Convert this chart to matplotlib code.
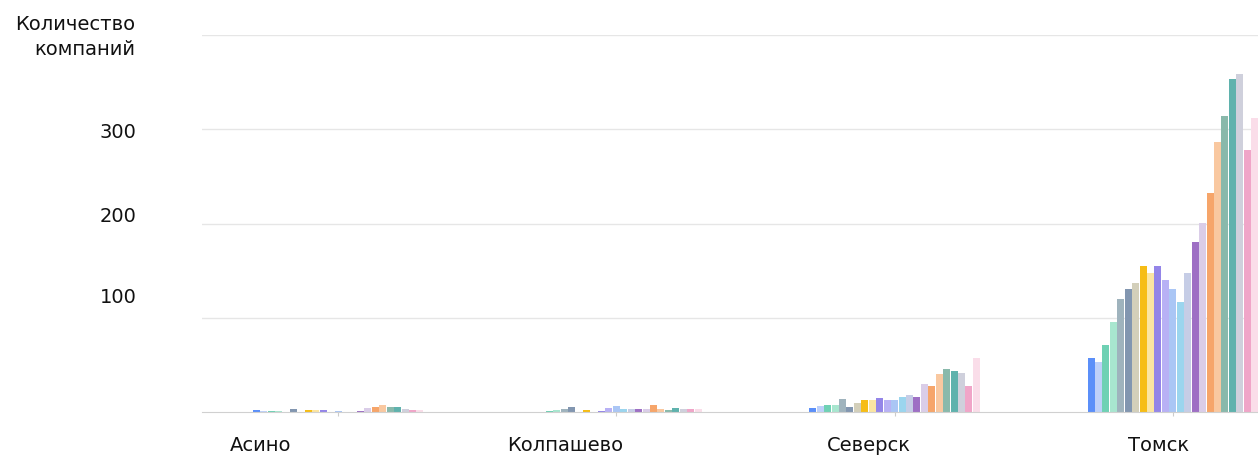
import matplotlib.pyplot as plt
import numpy as np

cities = ["Асино", "Колпашево", "Северск", "Томск"]

colors = ["#5b8ff9", "#bed0f9", "#6fd1b4", "#a8e6cf", "#9fb3bd", "#8296b0",
          "#d3cfba", "#f6bd16", "#fbe5a2", "#9485e8", "#b8b1f5", "#aac6f5",
          "#9bd5ee", "#c6cde6", "#9e6fc4", "#dacde8", "#f6a56a", "#f9c8a0",
          "#89b9ab", "#5fb2ad", "#cfd0dc", "#f0a5c8", "#fadde9"]

# values per series (23 series), one number per city
asino = [2, 1, 1, 1, 0, 3, 0, 2, 2, 2, 0, 1, 0, 0, 1, 4, 5, 7, 5, 5, 3, 2, 2]
kolpashevo = [0, 0, 1, 2, 3, 5, 0, 2, 0, 1, 4, 6, 3, 3, 3, 3, 7, 3, 2, 4, 3, 3, 3]
seversk = [4, 6, 7, 7, 14, 5, 10, 13, 13, 15, 13, 13, 16, 18, 16, 30, 28, 40, 46, 43, 41, 28, 57]
tomsk = [57, 53, 71, 95, 120, 131, 137, 155, 147, 155, 140, 131, 117, 147, 180,
         201, 232, 286, 314, 353, 359, 278, 312]

ytick_vals = [100, 200, 300]
label_y = [121, 207, 297]  # where the tick texts sit in the original
label_x = [-0.28, 0.817, 1.906, 2.95]

values = np.array([asino, kolpashevo, seversk, tomsk])
n_series = values.shape[1]
x = np.arange(len(cities))
group_w = 0.615
bw = group_w / n_series

fig = plt.figure(figsize=(12.58, 4.57), dpi=100)
ax = fig.add_axes([202 / 1258, 45 / 457, 1 - 202 / 1258, 377 / 457])

for i in range(n_series):
    offs = -group_w / 2 + bw * (i + 0.5)
    ax.bar(x + offs, values[:, i], width=bw * 0.94, color=colors[i], linewidth=0)

ax.set_xlim(-0.489, 3.306)
ax.set_ylim(0, 400)
ax.set_yticks([100, 200, 300, 400])
ax.set_yticklabels([])
ax.tick_params(axis="y", length=0)
ax.yaxis.grid(True, color="#e6e6e6", linewidth=1)
ax.set_axisbelow(True)

ax.set_xticks(x)
ax.set_xticklabels([])
ax.tick_params(axis="x", length=3, color="#cccccc")

for s in ["top", "right", "left"]:
    ax.spines[s].set_visible(False)
ax.spines["bottom"].set_color("#d0d0d0")

fs = 14
for lx, name in zip(label_x, cities):
    ax.text(lx, -0.088, name, transform=ax.get_xaxis_transform(),
            ha="center", va="center", fontsize=fs, color="#111111")

for ly, v in zip(label_y, ytick_vals):
    ax.text(-0.062, ly, str(v), transform=ax.get_yaxis_transform(),
            ha="right", va="center", fontsize=fs, color="#111111")

fig.text(135 / 1258, 1 - 37 / 457, "Количество\nкомпаний", ha="right", va="center",
         multialignment="right", fontsize=fs, color="#111111", linespacing=1.45)

fig.savefig("out.png", dpi=100)
